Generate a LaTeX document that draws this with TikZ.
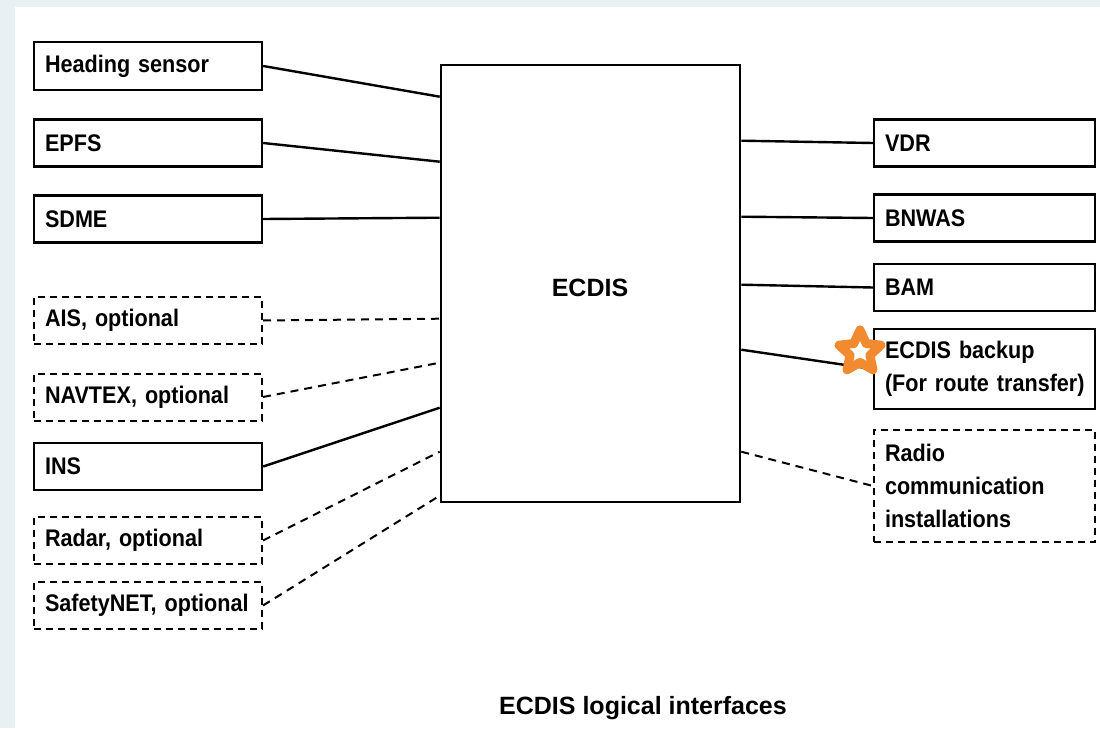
\documentclass[tikz,border=0pt]{standalone}
\usepackage{fontspec}
\setmainfont{Liberation Sans}
\newfontfamily\boxfont{Liberation Sans}[FakeStretch=0.9]
\usetikzlibrary{shapes.geometric,calc}
\definecolor{starorange}{HTML}{F28A30}
\definecolor{bgside}{HTML}{E8F0F4}
\tikzset{
  box/.style={draw, line width=2.4pt, minimum width=228pt, minimum height=47pt,
    text width=206pt, inner xsep=11pt, inner ysep=0pt, align=left,
    font=\boxfont\bfseries\fontsize{24}{33}\selectfont},
  rbox/.style={box, minimum width=221pt, text width=199pt},
  optdash/.style={line width=2pt, dash pattern=on 7pt off 5pt},
  link/.style={line width=2.4pt},
  optlink/.style={line width=2pt, dash pattern=on 8pt off 6pt},
  mainbox/.style={draw, line width=2.6pt, minimum width=299pt, minimum height=437pt}
}
\begin{document}
\begin{tikzpicture}[x=1pt,y=-1pt]
\useasboundingbox (0,0) rectangle (1100,728);
\fill[bgside] (0,0) rectangle (1100,728);
\fill[white] (15,7) rectangle (1100,728);

% central box
\node[mainbox] (ecdis) at (590.5,283.5) {};
\node[font=\bfseries\fontsize{25}{30}\selectfont] (ecdislabel) at (590,288) {ECDIS};

% left boxes
\node[box, minimum height=48pt] (heading) at (148,66) {Heading sensor};
\node[box] (epfs) at (148,143) {EPFS};
\node[box] (sdme) at (148,219) {SDME};
\node[box, optdash] (ais) at (148,320.5) {AIS, optional};
\node[box, optdash] (navtex) at (148,397) {NAVTEX, optional};
\node[box] (ins) at (148,466.5) {INS};
\node[box, optdash] (radar) at (148,540.5) {Radar, optional};
\node[box, optdash] (safety) at (148,605.5) {SafetyNET, optional};

% right boxes
\node[rbox] (vdr) at (984.5,143) {VDR};
\node[rbox] (bnwas) at (984.5,218) {BNWAS};
\node[rbox] (bam) at (984.5,287.5) {BAM};
\node[rbox, minimum height=80pt] (backup) at (984.5,369) {\mbox{ECDIS backup}\\\mbox{(For route transfer)}};
\node[rbox, optdash, minimum height=112pt] (radio) at (984.5,486) {Radio\\\mbox{communication}\\\mbox{installations}};

% left connectors
\draw[link] (heading.east) -- ($(ecdis.north west)+(0,33)$);
\draw[link] (epfs.east) -- ($(ecdis.north west)+(0,98)$);
\draw[link] (sdme.east) -- ($(ecdis.north west)+(0,154)$);
\draw[optlink] (ais.east) -- ($(ecdis.north west)+(0,255)$);
\draw[optlink] (navtex.east) -- ($(ecdis.north west)+(0,299)$);
\draw[link] (ins.east) -- ($(ecdis.north west)+(0,344)$);
\draw[optlink] (radar.east) -- ($(ecdis.north west)+(0,388)$);
\draw[optlink] (safety.east) -- ($(ecdis.north west)+(0,432)$);

% right connectors
\draw[link] ($(ecdis.north east)+(0,77)$) -- (vdr.west);
\draw[link] ($(ecdis.north east)+(0,153)$) -- (bnwas.west);
\draw[link] ($(ecdis.north east)+(0,221)$) -- (bam.west);
\draw[link] ($(ecdis.north east)+(0,286)$) -- (backup.west);
\draw[optlink] ($(ecdis.north east)+(0,388)$) -- (radio.west);

% star marker
\node[star, star points=5, star point ratio=2.1, minimum size=44pt, inner sep=0pt,
  draw=starorange, fill=white, line width=9pt, line join=round] (mark) at (860,352) {};

% caption
\node[font=\bfseries\fontsize{25}{30}\selectfont] (caption) at (643,708) {ECDIS logical interfaces};
\end{tikzpicture}
\end{document}
